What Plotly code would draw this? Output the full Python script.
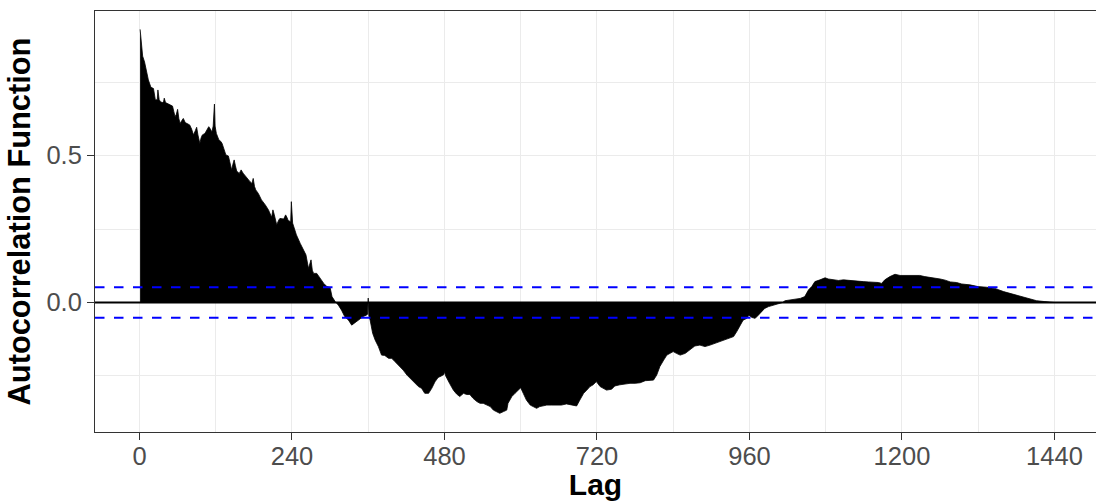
import plotly.graph_objects as go

# Sample autocorrelation by lag (spikes recur at multiples of ~30 lags)
lags = [
    1, 2, 3, 5, 8, 10, 12, 14, 18, 22, 25, 28, 29, 31, 33, 36, 38, 39, 41, 43,
    48, 52, 54, 56, 58, 60, 62, 64, 67, 69, 72, 74, 79, 82, 85, 88, 90, 92, 95, 97,
    99, 103, 106, 109, 111, 114, 116, 118, 119, 121, 125, 128, 130, 133, 136, 140, 143, 145, 147, 149,
    151, 153, 157, 160, 163, 165, 169, 174, 177, 179, 181, 183, 187, 192, 198, 203, 208, 210, 212, 216,
    219, 221, 227, 230, 232, 234, 238, 239, 241, 243, 247, 253, 258, 262, 266, 268, 270, 272, 274, 279,
    284, 290, 295, 300, 303, 308, 313, 318, 323, 329, 334, 338, 344, 352, 357, 359, 360, 361, 363, 367,
    371, 376, 381, 386, 392, 397, 402, 410, 415, 421, 426, 434, 439, 444, 449, 455, 460, 465, 470, 475,
    479, 480, 482, 488, 494, 499, 504, 510, 515, 520, 525, 531, 536, 541, 546, 552, 557, 562, 567, 573,
    578, 580, 586, 591, 596, 600, 604, 609, 615, 620, 625, 630, 636, 641, 649, 657, 664, 672, 680, 688,
    693, 699, 704, 709, 714, 719, 725, 730, 735, 743, 748, 756, 764, 772, 780, 788, 796, 804, 809, 814,
    819, 825, 830, 835, 840, 845, 851, 859, 866, 874, 882, 890, 898, 906, 914, 922, 929, 935, 940, 945,
    950, 956, 959, 964, 969, 974, 979, 984, 990, 998, 1005, 1012, 1016, 1024, 1032, 1040, 1047, 1053, 1058, 1063,
    1071, 1079, 1084, 1092, 1100, 1108, 1116, 1123, 1131, 1139, 1147, 1155, 1163, 1168, 1173, 1181, 1189, 1197, 1205, 1213,
    1221, 1228, 1236, 1244, 1252, 1260, 1268, 1276, 1286, 1294, 1307, 1320, 1333, 1346, 1360, 1373, 1386, 1399, 1412, 1425,
    1435, 1440,
]
acf = [
    0.929, 0.905, 0.862, 0.838, 0.818, 0.800, 0.775, 0.757, 0.732, 0.728, 0.689, 0.690, 0.723, 0.690, 0.683, 0.680, 0.684, 0.695, 0.680, 0.678,
    0.672, 0.668, 0.650, 0.632, 0.640, 0.657, 0.625, 0.609, 0.620, 0.626, 0.612, 0.609, 0.604, 0.590, 0.570, 0.585, 0.596, 0.570, 0.541, 0.560,
    0.570, 0.575, 0.585, 0.598, 0.592, 0.580, 0.600, 0.675, 0.600, 0.575, 0.553, 0.548, 0.541, 0.520, 0.502, 0.498, 0.470, 0.451, 0.470, 0.485,
    0.465, 0.447, 0.439, 0.451, 0.440, 0.434, 0.422, 0.411, 0.405, 0.422, 0.395, 0.383, 0.371, 0.349, 0.332, 0.315, 0.290, 0.315, 0.300, 0.264,
    0.280, 0.286, 0.284, 0.298, 0.290, 0.279, 0.275, 0.343, 0.270, 0.255, 0.230, 0.201, 0.179, 0.162, 0.116, 0.130, 0.145, 0.110, 0.099, 0.099,
    0.082, 0.065, 0.054, 0.051, 0.020, 0.003, -0.009, -0.026, -0.048, -0.060, -0.077, -0.070, -0.060, -0.048, -0.043, -0.040, 0.015, -0.045, -0.060, -0.105,
    -0.128, -0.150, -0.179, -0.180, -0.190, -0.190, -0.201, -0.218, -0.230, -0.247, -0.258, -0.275, -0.286, -0.292, -0.309, -0.309, -0.292, -0.270, -0.255, -0.250,
    -0.245, -0.235, -0.250, -0.275, -0.298, -0.311, -0.320, -0.309, -0.313, -0.313, -0.326, -0.337, -0.343, -0.343, -0.349, -0.354, -0.366, -0.371, -0.377, -0.371,
    -0.366, -0.343, -0.320, -0.309, -0.298, -0.290, -0.309, -0.332, -0.349, -0.354, -0.360, -0.354, -0.352, -0.349, -0.349, -0.349, -0.349, -0.345, -0.349, -0.352,
    -0.332, -0.309, -0.298, -0.286, -0.280, -0.269, -0.286, -0.292, -0.298, -0.295, -0.284, -0.280, -0.277, -0.275, -0.275, -0.273, -0.266, -0.266, -0.264, -0.247,
    -0.218, -0.196, -0.179, -0.173, -0.167, -0.173, -0.179, -0.173, -0.162, -0.148, -0.145, -0.150, -0.145, -0.139, -0.133, -0.128, -0.122, -0.116, -0.099, -0.077,
    -0.060, -0.054, -0.043, -0.051, -0.054, -0.043, -0.031, -0.020, -0.014, -0.009, -0.005, 0.000, 0.006, 0.009, 0.012, 0.014, 0.020, 0.043, 0.054, 0.071,
    0.077, 0.084, 0.080, 0.077, 0.075, 0.077, 0.075, 0.073, 0.071, 0.071, 0.070, 0.070, 0.068, 0.065, 0.077, 0.088, 0.096, 0.092, 0.092, 0.093,
    0.092, 0.092, 0.088, 0.086, 0.082, 0.080, 0.076, 0.070, 0.068, 0.063, 0.060, 0.054, 0.052, 0.048, 0.037, 0.029, 0.020, 0.012, 0.006, 0.003,
    0.001, 0.000,
]

# 95% confidence bound for white noise
conf_bound = 0.0515

x_ticks = [0, 240, 480, 720, 960, 1200, 1440]
x_minor = [120, 360, 600, 840, 1080, 1320]
y_ticks = [0.0, 0.5]
y_tick_text = ["0.0", "0.5"]
y_minor = [-0.25, 0.25, 0.75]

FONT = "Liberation Sans, Arial, Helvetica, sans-serif"
GRID = "#EBEBEB"
AXIS = "#333333"

fig = go.Figure()

fig.add_trace(go.Scatter(
    x=lags, y=acf, mode="lines",
    line=dict(color="black", width=0.8),
    fill="tozeroy", fillcolor="black",
    hoverinfo="x+y", showlegend=False,
))

# zero reference line
fig.add_hline(y=0, line=dict(color="black", width=1.8))

# confidence bounds
for b in (conf_bound, -conf_bound):
    fig.add_shape(type="line", xref="paper", x0=0, x1=1, yref="y", y0=b, y1=b,
                  line=dict(color="blue", width=2, dash="9.5px,9.5px"))

fig.update_layout(
    width=1096, height=501,
    margin=dict(l=95, r=0, t=11, b=69),
    paper_bgcolor="white", plot_bgcolor="white",
    font=dict(family=FONT, color="#4D4D4D"),
    showlegend=False,
)

fig.update_xaxes(
    range=[-70.0, 1505.4],
    tickmode="array", tickvals=x_ticks, ticktext=[str(v) for v in x_ticks],
    tickfont=dict(size=25.5, color="#4D4D4D", family=FONT),
    ticks="outside", ticklen=7, tickwidth=1.1, tickcolor=AXIS,
    ticklabelstandoff=-6,
    showgrid=True, gridcolor=GRID, gridwidth=1.1,
    minor=dict(tickvals=x_minor, showgrid=True, gridcolor=GRID, gridwidth=0.6, ticks=""),
    showline=True, linecolor=AXIS, linewidth=1.1, mirror=True,
    zeroline=False,
    title=dict(text="<b>Lag</b>", font=dict(size=30, color="black", family=FONT), standoff=2),
)
fig.update_yaxes(
    range=[-0.4405, 0.9915],
    tickmode="array", tickvals=y_ticks, ticktext=y_tick_text,
    tickfont=dict(size=25.5, color="#4D4D4D", family=FONT),
    ticks="outside", ticklen=7, tickwidth=1.1, tickcolor=AXIS,
    showgrid=True, gridcolor=GRID, gridwidth=1.1,
    minor=dict(tickvals=y_minor, showgrid=True, gridcolor=GRID, gridwidth=0.6, ticks=""),
    showline=True, linecolor=AXIS, linewidth=1.1, mirror=False,
    zeroline=False,
    title=dict(text="<b>Autocorrelation Function</b>", font=dict(size=30.8, color="black", family=FONT), standoff=6),
)

fig.write_html("out.html")
